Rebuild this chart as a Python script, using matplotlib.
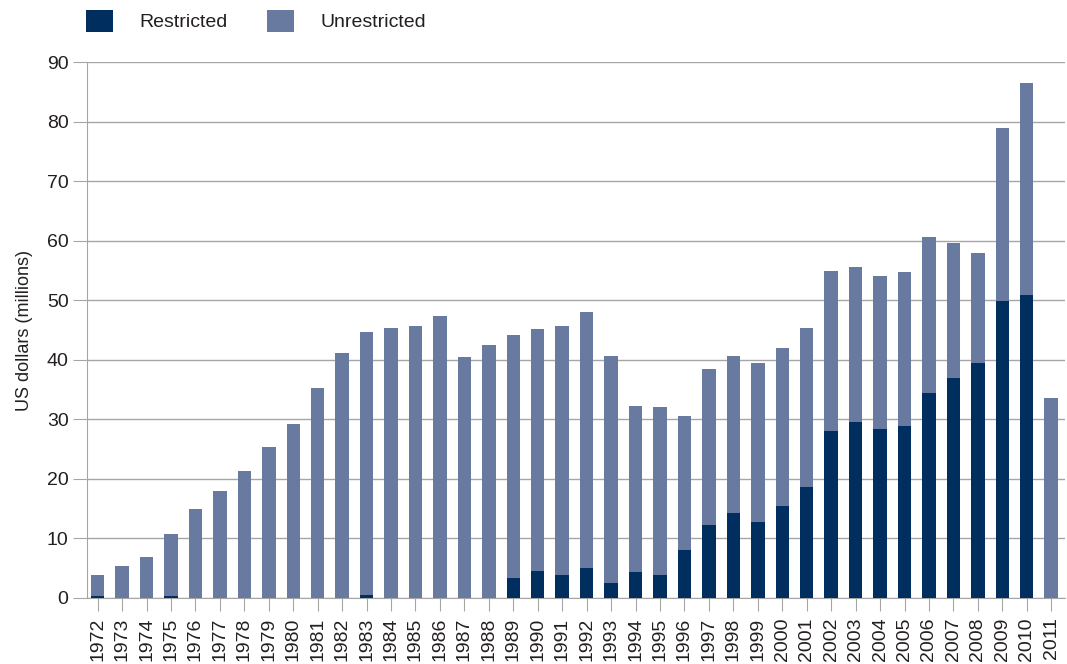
import matplotlib
matplotlib.use("Agg")
import matplotlib.pyplot as plt
import numpy as np

years = [str(y) for y in range(1972, 2012)]
total = [3.9, 5.4, 6.9, 10.8, 15.0, 18.0, 21.4, 25.4, 29.3, 35.3,
         41.2, 44.6, 45.4, 45.6, 47.3, 40.5, 42.4, 44.1, 45.1, 45.6,
         48.1, 40.6, 32.3, 32.1, 30.5, 38.4, 40.6, 39.4, 42.0, 45.4,
         54.9, 55.5, 54.1, 54.8, 60.7, 59.6, 58.0, 78.9, 86.5, 33.6]
restricted = [0.3, 0, 0, 0.3, 0, 0, 0, 0, 0, 0,
              0, 0.5, 0, 0, 0, 0, 0, 3.4, 4.6, 3.8,
              5.1, 2.6, 4.3, 3.9, 8.0, 12.3, 14.2, 12.8, 15.4, 18.7,
              28.0, 29.5, 28.3, 28.8, 34.4, 37.0, 39.4, 49.8, 50.8, 0]
unrestricted = [t - r for t, r in zip(total, restricted)]

dark = "#002f5f"
light = "#687aa0"
grey = "#a6a6a6"
txt = "#231f20"

plt.rcParams['font.family'] = ['Liberation Sans', 'DejaVu Sans']

fig = plt.figure(figsize=(10.67, 6.64), dpi=100)
ax = fig.add_axes([0.0812, 0.0994, 0.9166, 0.8072])

x = np.arange(len(years))
w = 0.55
ax.bar(x, restricted, w, color=dark, zorder=3, label="Restricted")
ax.bar(x, unrestricted, w, bottom=restricted, color=light, zorder=3, label="Unrestricted")

ax.set_ylim(0, 90)
ax.set_yticks(range(0, 91, 10))
ax.set_xlim(-0.45, len(years) - 0.45)
ax.set_xticks(x)
ax.set_xticklabels(years, rotation=90)
ax.yaxis.grid(True, color=grey, lw=1, zorder=0)
for s in ["top", "right"]:
    ax.spines[s].set_visible(False)
for s in ["left", "bottom"]:
    ax.spines[s].set_color(grey)
ax.tick_params(axis="y", colors=grey, length=10, pad=3, labelcolor=txt, labelsize=14)
ax.tick_params(axis="x", colors=grey, length=9, pad=5, labelcolor=txt, labelsize=14)
ax.set_ylabel("US dollars (millions)", fontsize=13, color=txt, labelpad=10)

leg = fig.legend(loc="upper left", bbox_to_anchor=(0.064, 1.012), ncol=2, frameon=False,
                 fontsize=14, handlelength=1.42, handleheight=1.42, columnspacing=2.0,
                 handletextpad=1.35)
for t in leg.get_texts():
    t.set_color(txt)

fig.savefig("out.png", dpi=100)
